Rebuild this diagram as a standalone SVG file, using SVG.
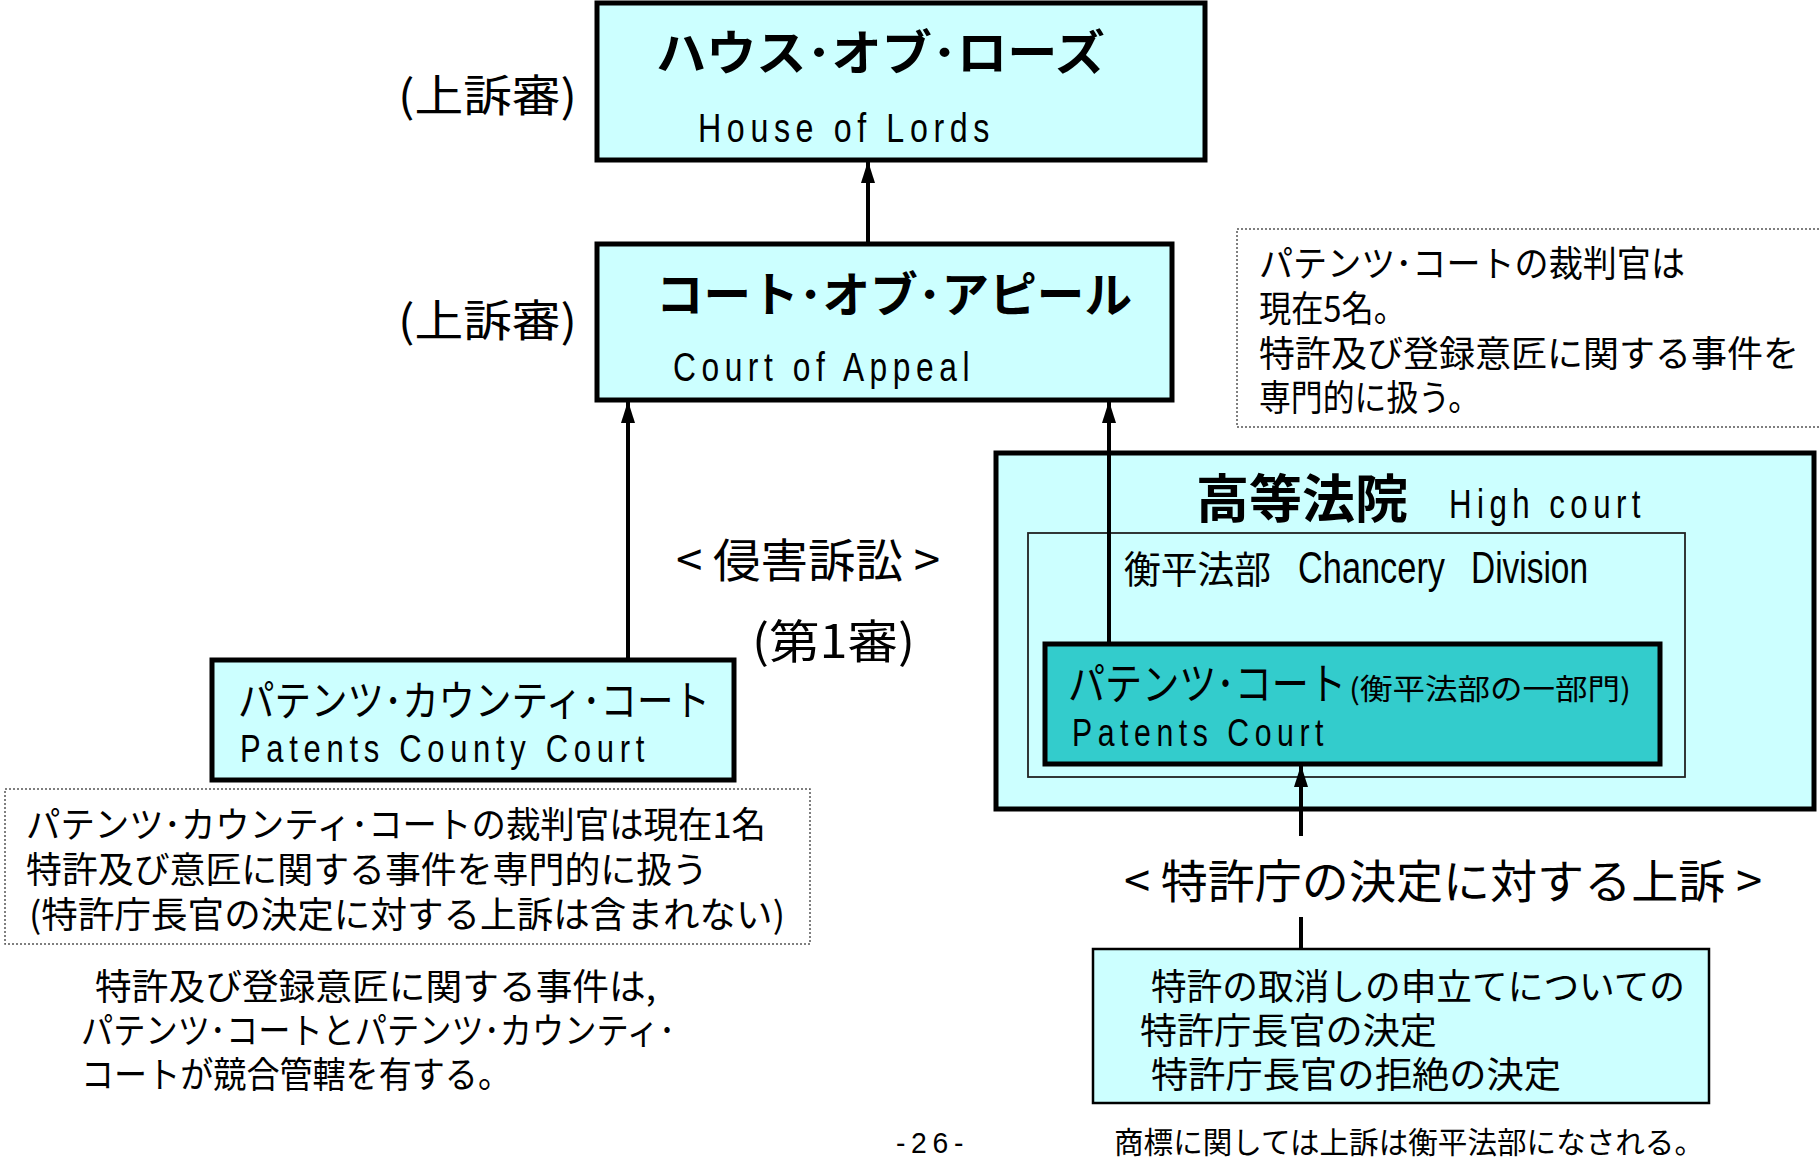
<svg xmlns="http://www.w3.org/2000/svg" width="1820" height="1159" viewBox="0 0 1820 1159">
<style>
.jp{font-family:"Noto Sans CJK JP","Noto Sans CJK SC",sans-serif;fill:#000}
.en{font-family:"Liberation Sans","DejaVu Sans",sans-serif;fill:#000}
.b{font-weight:bold}
.box{fill:#CCFFFF;stroke:#000;stroke-width:5}
.dk{fill:#33CCCC;stroke:#000;stroke-width:5}
.thin{fill:#CCFFFF;stroke:#222;stroke-width:1.8}
.note{fill:none;stroke:#555;stroke-width:1.5;stroke-dasharray:2 2}
.ln{stroke:#000;stroke-width:4;fill:none}
</style>
<defs>
<marker id="ah" markerUnits="userSpaceOnUse" markerWidth="22" markerHeight="16" refX="21" refY="8" orient="auto" viewBox="0 0 22 16">
<path d="M22 8 L0 1 L0 15 Z" fill="#000"/>
</marker>
</defs>

<g id="label-appeal1"><text class="jp" x="398" y="112" font-size="44" textLength="179" lengthAdjust="spacingAndGlyphs">(上訴審)</text></g>
<g id="label-appeal2"><text class="jp" x="398" y="337" font-size="44" textLength="179" lengthAdjust="spacingAndGlyphs">(上訴審)</text></g>

<g id="house-of-lords">
<rect class="box" x="597" y="3" width="608" height="157"/>
<text class="jp b" x="656" y="70" font-size="48" textLength="449" lengthAdjust="spacingAndGlyphs">ハウス･オブ･ローズ</text>
<text class="en" x="698" y="142" font-size="40" letter-spacing="7" textLength="297" lengthAdjust="spacingAndGlyphs">House of Lords</text>
</g>

<g id="court-of-appeal">
<rect class="box" x="597" y="244" width="575" height="156"/>
<text class="jp b" x="656" y="312" font-size="48" textLength="476" lengthAdjust="spacingAndGlyphs">コート･オブ･アピール</text>
<text class="en" x="673" y="381" font-size="40" letter-spacing="7" textLength="302" lengthAdjust="spacingAndGlyphs">Court of Appeal</text>
</g>

<g id="note-patents-court">
<rect class="note" x="1237" y="229" width="590" height="198"/>
<text class="jp" x="1259" y="277" font-size="36" textLength="426" lengthAdjust="spacingAndGlyphs">パテンツ･コートの裁判官は</text>
<text class="jp" x="1259" y="322" font-size="36" textLength="147" lengthAdjust="spacingAndGlyphs">現在5名。</text>
<text class="jp" x="1259" y="367" font-size="36" textLength="540" lengthAdjust="spacingAndGlyphs">特許及び登録意匠に関する事件を</text>
<text class="jp" x="1259" y="411" font-size="36" textLength="221" lengthAdjust="spacingAndGlyphs">専門的に扱う。</text>
</g>

<g id="high-court">
<rect class="box" x="996" y="453" width="818" height="356"/>
<text class="jp b" x="1196" y="518" font-size="52" textLength="212" lengthAdjust="spacingAndGlyphs">高等法院</text>
<text class="en" x="1449" y="518" font-size="40" letter-spacing="7" textLength="197" lengthAdjust="spacingAndGlyphs">High court</text>
</g>

<g id="chancery-division">
<rect class="thin" x="1028" y="533" width="657" height="244"/>
<text class="jp" x="1124" y="583" font-size="38" textLength="147" lengthAdjust="spacingAndGlyphs">衡平法部</text>
<text class="en" x="1298" y="583" font-size="44" textLength="147" lengthAdjust="spacingAndGlyphs">Chancery</text>
<text class="en" x="1471" y="583" font-size="44" textLength="117" lengthAdjust="spacingAndGlyphs">Division</text>
</g>

<g id="patents-court">
<rect class="dk" x="1045" y="644" width="615" height="120"/>
<text class="jp" x="1068" y="700" font-size="44" textLength="278" lengthAdjust="spacingAndGlyphs">パテンツ･コート</text>
<text class="jp" x="1349" y="700" font-size="29" textLength="282" lengthAdjust="spacingAndGlyphs">(衡平法部の一部門)</text>
<text class="en" x="1072" y="746" font-size="38" letter-spacing="7" textLength="257" lengthAdjust="spacingAndGlyphs">Patents Court</text>
</g>

<g id="infringement-label">
<text class="jp" x="676" y="577" font-size="46" textLength="264" lengthAdjust="spacingAndGlyphs">&lt; 侵害訴訟 &gt;</text>
<text class="jp" x="752" y="658" font-size="46" textLength="163" lengthAdjust="spacingAndGlyphs">(第1審)</text>
</g>

<g id="patents-county-court">
<rect class="box" x="212" y="660" width="522" height="120"/>
<text class="jp" x="238" y="716" font-size="42" textLength="472" lengthAdjust="spacingAndGlyphs">パテンツ･カウンティ･コート</text>
<text class="en" x="240" y="762" font-size="38" letter-spacing="7" textLength="410" lengthAdjust="spacingAndGlyphs">Patents County Court</text>
</g>

<g id="note-county-court">
<rect class="note" x="5" y="789" width="805" height="155"/>
<text class="jp" x="26" y="838" font-size="36" textLength="740" lengthAdjust="spacingAndGlyphs">パテンツ･カウンティ･コートの裁判官は現在1名</text>
<text class="jp" x="26" y="883" font-size="36" textLength="682" lengthAdjust="spacingAndGlyphs">特許及び意匠に関する事件を専門的に扱う</text>
<text class="jp" x="29" y="928" font-size="36" textLength="756" lengthAdjust="spacingAndGlyphs">(特許庁長官の決定に対する上訴は含まれない)</text>
</g>

<g id="jurisdiction-text">
<text class="jp" x="95" y="1000" font-size="36" textLength="561" lengthAdjust="spacingAndGlyphs">特許及び登録意匠に関する事件は,</text>
<text class="jp" x="81" y="1044" font-size="36" textLength="594" lengthAdjust="spacingAndGlyphs">パテンツ･コートとパテンツ･カウンティ･</text>
<text class="jp" x="81" y="1088" font-size="36" textLength="430" lengthAdjust="spacingAndGlyphs">コートが競合管轄を有する。</text>
</g>

<g id="office-appeal-label">
<text class="jp" x="1124" y="898" font-size="46" textLength="638" lengthAdjust="spacingAndGlyphs">&lt; 特許庁の決定に対する上訴 &gt;</text>
</g>

<g id="office-decisions">
<rect class="box" x="1093" y="949" width="616" height="154" style="stroke-width:2.5"/>
<text class="jp" x="1151" y="1000" font-size="36" textLength="534" lengthAdjust="spacingAndGlyphs">特許の取消しの申立てについての</text>
<text class="jp" x="1140" y="1044" font-size="36" textLength="297" lengthAdjust="spacingAndGlyphs">特許庁長官の決定</text>
<text class="jp" x="1151" y="1088" font-size="36" textLength="410" lengthAdjust="spacingAndGlyphs">特許庁長官の拒絶の決定</text>
</g>

<g id="trademark-note">
<text class="jp" x="1114" y="1153" font-size="30" textLength="590" lengthAdjust="spacingAndGlyphs">商標に関しては上訴は衡平法部になされる。</text>
</g>

<g id="page-number">
<text class="en" x="896" y="1153" font-size="30" letter-spacing="6" textLength="73" lengthAdjust="spacingAndGlyphs">-26-</text>
</g>

<g id="connectors">
<line class="ln" x1="868" y1="244" x2="868" y2="162" marker-end="url(#ah)"/>
<line class="ln" x1="628" y1="660" x2="628" y2="402" marker-end="url(#ah)"/>
<line class="ln" x1="1109" y1="644" x2="1109" y2="402" marker-end="url(#ah)"/>
<line class="ln" x1="1301" y1="836" x2="1301" y2="766" marker-end="url(#ah)"/>
<line class="ln" x1="1301" y1="917" x2="1301" y2="949"/>
</g>
</svg>
